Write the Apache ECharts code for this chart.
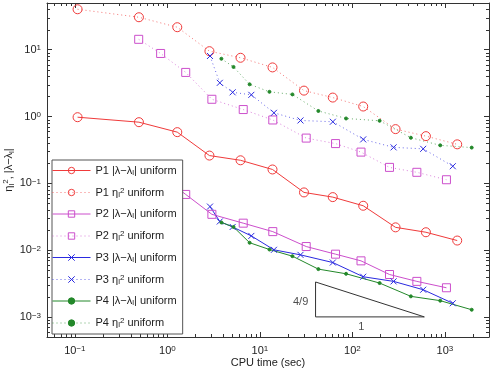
<!DOCTYPE html>
<html>
<head>
<meta charset="utf-8">
<script src="https://cdn.jsdelivr.net/npm/echarts@6/dist/echarts.min.js"></script>
<style>
  html, body { margin: 0; padding: 0; background: #fff; }
  #main { width: 495px; height: 372px; }
</style>
</head>
<body>
<div id="main"></div>
<script>
// values (CPU time in sec, errors)
var p1X = [0.107, 0.493, 1.28, 2.85, 6.18, 13.7, 30.0, 61.4, 131, 293, 624, 1360];
var p1Diff = [0.976, 0.822, 0.583, 0.260, 0.221, 0.161, 0.0730, 0.0621, 0.0461, 0.0219, 0.0185, 0.0139];
var p1Eta = [40.3, 30.6, 21.7, 9.5, 7.57, 5.43, 2.44, 1.92, 1.41, 0.647, 0.508, 0.383];

var p2X = [0.49, 0.846, 1.58, 3.03, 6.61, 13.8, 31.7, 65.8, 124, 252, 498, 1040];
var p2Diff = [0.165, 0.13, 0.0681, 0.0343, 0.0253, 0.0189, 0.0113, 0.00869, 0.0069, 0.00431, 0.0034, 0.00273];
var p2Eta = [14.3, 8.78, 4.57, 1.81, 1.27, 0.887, 0.475, 0.393, 0.293, 0.173, 0.146, 0.113];

var p3X = [2.89, 3.69, 5.08, 8.09, 14.2, 27.5, 61.5, 131, 279, 583, 1218];
var p3Diff = [0.0448, 0.0268, 0.0222, 0.0163, 0.0101, 0.00848, 0.00651, 0.00399, 0.0034, 0.00255, 0.0016];
var p3Eta = [8.05, 3.19, 2.30, 2.11, 1.135, 0.872, 0.834, 0.454, 0.345, 0.328, 0.180];

var p4X = [3.84, 5.19, 7.75, 12.7, 22.5, 42.9, 85.5, 197, 429, 891, 1950];
var p4Diff = [0.0259, 0.0222, 0.0129, 0.0102, 0.00811, 0.00519, 0.00442, 0.00321, 0.00203, 0.00175, 0.00128];
var p4Eta = [7.32, 5.52, 3.03, 2.34, 2.14, 1.21, 0.934, 0.863, 0.481, 0.370, 0.342];

// slope triangle
var triX = [40, 600, 40, 40];
var triY = [0.001, 0.001, 0.00333, 0.001];
var noteX = [27.6, 125];
var noteY = [0.00165, 0.0007];
var noteText = ['4/9', '1'];

var X_MIN = 0.05, X_MAX = 3000, Y_MIN = 0.0005, Y_MAX = 50;
var FONT = 'Liberation Sans, Arial, Helvetica, sans-serif';

var RED = '#f03a3a', MAG = '#cc4fcc', BLUE = '#2a2ae0', GREEN = '#23882a';
var X_SYM = 'path://M0,0L10,10M10,0L0,10';
var CLEAR = 'rgba(255,255,255,0)';

function pairs(xs, ys) {
  var out = [];
  for (var i = 0; i < xs.length; i++) out.push([xs[i], ys[i]]);
  return out;
}

// legend text with sub/superscripts
var legendNames = [
  'P1 |λ−λl| uniform', 'P1 ηl2 uniform',
  'P2 |λ−λl| uniform', 'P2 ηl2 uniform',
  'P3 |λ−λl| uniform', 'P3 ηl2 uniform',
  'P4 |λ−λl| uniform', 'P4 ηl2 uniform'
];
function richName(name) {
  var p = name.slice(0, 3);
  if (name.indexOf('|') >= 0) return p + '|λ−λ{sub|l}| uniform';
  return p + 'η{sub|l}{sup|2} uniform';
}

// hollow markers: plain symbols with clear fill and a 1px border
function mkSeries(idx, xs, ys, color, symbol, size, hollow, dotted) {
  return {
    name: legendNames[idx],
    type: 'line',
    data: pairs(xs, ys),
    symbol: symbol,
    symbolSize: size,
    showSymbol: true,
    color: color,
    itemStyle: { color: hollow ? CLEAR : color, borderColor: color, borderWidth: 1 },
    lineStyle: { color: color, width: 1, type: dotted ? [1, 3] : 'solid', opacity: dotted ? 0.7 : 1 },
    animation: false,
    z: 3
  };
}

// minor tick positions (2..9 per decade)
var minorX = [], minorY = [];
for (var d = -4; d <= 4; d++) {
  for (var m = 2; m <= 9; m++) {
    var v = m * Math.pow(10, d);
    if (v > X_MIN && v < X_MAX) minorX.push([v, 1]);
    if (v > Y_MIN && v < Y_MAX) minorY.push([1, v]);
  }
}

function minorTickItem(horizontal) {
  return function (params, api) {
    var cs = params.coordSys;
    var pt = api.coord([api.value(0), api.value(1)]);
    var st = { stroke: '#333', lineWidth: 1 };
    if (horizontal) {
      var x = Math.round(pt[0]) + 0.5;
      return { type: 'group', children: [
        { type: 'line', shape: { x1: x, y1: cs.y + cs.height, x2: x, y2: cs.y + cs.height - 3 }, style: st },
        { type: 'line', shape: { x1: x, y1: cs.y, x2: x, y2: cs.y + 3 }, style: st }
      ] };
    }
    var y = Math.round(pt[1]) + 0.5;
    return { type: 'group', children: [
      { type: 'line', shape: { x1: cs.x, y1: y, x2: cs.x + 3, y2: y }, style: st },
      { type: 'line', shape: { x1: cs.x + cs.width, y1: y, x2: cs.x + cs.width - 3, y2: y }, style: st }
    ] };
  };
}

function powLabel(v) {
  var e = Math.log(v) / Math.LN10;
  var r = Math.round(e);
  if (Math.abs(e - r) > 1e-6) return '';
  return '10{e|' + String(r).replace('-', '−') + '}';
}

var axisLineStyle = { color: '#333', width: 1 };
var labelRich = { e: { fontSize: 8, fontFamily: FONT, color: '#222', verticalAlign: 'top', lineHeight: 10 } };

var chart = echarts.init(document.getElementById('main'), null, { renderer: 'canvas' });

var option = {
  backgroundColor: '#fff',
  animation: false,
  textStyle: { fontFamily: FONT },
  grid: { left: 47, right: 6, top: 3, bottom: 35, containLabel: false, outerBoundsMode: 'none' },
  legend: {
    data: legendNames,
    orient: 'vertical',
    left: 52,
    top: 160,
    itemWidth: 38,
    itemHeight: 8,
    itemGap: 10,
    padding: [5, 6, 5, 0],
    backgroundColor: '#fff',
    borderColor: '#555',
    borderWidth: 1,
    z: 10,
    selectedMode: false,
    formatter: richName,
    itemStyle: { borderWidth: 1 },
    lineStyle: { width: 1 },
    textStyle: {
      fontSize: 11, fontFamily: FONT, color: '#222',
      rich: {
        sub: { fontSize: 8, fontFamily: FONT, color: '#222', verticalAlign: 'bottom', lineHeight: 12 },
        sup: { fontSize: 8, fontFamily: FONT, color: '#222', verticalAlign: 'top', lineHeight: 12 }
      }
    }
  },
  xAxis: [{
    type: 'log', logBase: 10, min: X_MIN, max: X_MAX,
    position: 'bottom',
    name: 'CPU time (sec)', nameLocation: 'middle', nameGap: 20, nameMoveOverlap: false,
    nameTextStyle: { fontSize: 11, fontFamily: FONT, color: '#222' },
    axisLine: { show: true, onZero: false, lineStyle: axisLineStyle },
    axisTick: { show: true, inside: true, length: 5, lineStyle: axisLineStyle },
    axisLabel: { show: true, margin: 8, fontSize: 11, color: '#222', fontFamily: FONT,
      formatter: powLabel, rich: labelRich, showMinLabel: false, showMaxLabel: false },
    splitLine: { show: false }
  }, {
    type: 'log', logBase: 10, min: X_MIN, max: X_MAX,
    position: 'top',
    axisLine: { show: true, onZero: false, lineStyle: axisLineStyle },
    axisTick: { show: true, inside: true, length: 5, lineStyle: axisLineStyle },
    axisLabel: { show: false },
    splitLine: { show: false }
  }],
  yAxis: [{
    type: 'log', logBase: 10, min: Y_MIN, max: Y_MAX,
    position: 'left',
    name: '{t|η}{s|l}{p|2}{t|, |λ−λ}{s|l}{t||}',
    nameLocation: 'middle', nameGap: 31, nameMoveOverlap: false,
    nameTextStyle: {
      rich: {
        t: { fontSize: 11, fontFamily: FONT, color: '#222' },
        s: { fontSize: 8, fontFamily: FONT, color: '#222', verticalAlign: 'bottom', lineHeight: 14 },
        p: { fontSize: 8, fontFamily: FONT, color: '#222', verticalAlign: 'top', lineHeight: 14 }
      }
    },
    axisLine: { show: true, onZero: false, lineStyle: axisLineStyle },
    axisTick: { show: true, inside: true, length: 5, lineStyle: axisLineStyle },
    axisLabel: { show: true, margin: 6, fontSize: 11, color: '#222', fontFamily: FONT,
      formatter: powLabel, rich: labelRich, showMinLabel: false, showMaxLabel: false },
    splitLine: { show: false }
  }, {
    type: 'log', logBase: 10, min: Y_MIN, max: Y_MAX,
    position: 'right',
    axisLine: { show: true, onZero: false, lineStyle: axisLineStyle },
    axisTick: { show: true, inside: true, length: 5, lineStyle: axisLineStyle },
    axisLabel: { show: false },
    splitLine: { show: false }
  }],
  series: [
    mkSeries(0, p1X, p1Diff, RED, 'circle', 9, true, false),
    mkSeries(1, p1X, p1Eta, RED, 'circle', 9, true, true),
    mkSeries(2, p2X, p2Diff, MAG, 'rect', 8, true, false),
    mkSeries(3, p2X, p2Eta, MAG, 'rect', 8, true, true),
    mkSeries(4, p3X, p3Diff, BLUE, X_SYM, 6, false, false),
    mkSeries(5, p3X, p3Eta, BLUE, X_SYM, 6, false, true),
    mkSeries(6, p4X, p4Diff, GREEN, 'circle', 3, false, false),
    mkSeries(7, p4X, p4Eta, GREEN, 'circle', 3, false, true),
    {
      name: 'triangle', type: 'line', data: pairs(triX, triY),
      symbol: 'none', silent: true, z: 2,
      lineStyle: { color: '#333', width: 1 }
    },
    {
      name: 'notes', type: 'scatter', silent: true, symbolSize: 0, z: 2,
      data: noteX.map(function (x, i) { return [x, noteY[i], noteText[i]]; }),
      label: {
        show: true, position: 'inside', fontSize: 11, fontFamily: FONT, color: '#222',
        formatter: function (p) { return p.value[2]; }
      }
    },
    { name: 'minorX', type: 'custom', silent: true, z: 1, clip: false, data: minorX, renderItem: minorTickItem(true) },
    { name: 'minorY', type: 'custom', silent: true, z: 1, clip: false, data: minorY, renderItem: minorTickItem(false) }
  ]
};

chart.setOption(option);
</script>
</body>
</html>
